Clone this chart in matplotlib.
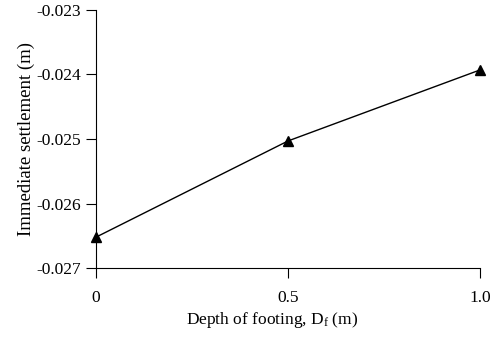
import matplotlib
matplotlib.use("Agg")
import matplotlib.pyplot as plt

# Données
depth = [0, 0.5, 1.0]
settlement = [-0.02652, -0.02503, -0.02393]
x_ticks = [0, 0.5, 1.0]
x_labels = ["0", "0.5", "1.0"]
y_ticks = [-0.027, -0.026, -0.025, -0.024, -0.023]
y_labels = ["-0.027", "-0.026", "-0.025", "-0.024", "-0.023"]

plt.rcParams["font.family"] = ["Liberation Serif", "DejaVu Serif"]
plt.rcParams["mathtext.fontset"] = "custom"
plt.rcParams["mathtext.rm"] = "Liberation Serif"
plt.rcParams["mathtext.it"] = "Liberation Serif:italic"

fig = plt.figure(figsize=(4.95, 3.39), dpi=100)
ax = fig.add_axes([0.194, 0.209, 0.776, 0.762])

ax.plot(depth, settlement, color="black", linewidth=1.0,
        marker="^", markersize=7, markerfacecolor="black", clip_on=False, zorder=3)

ax.set_xlim(0, 1.0)
ax.set_ylim(-0.027, -0.023)
ax.set_xticks(x_ticks)
ax.set_xticklabels(x_labels)
ax.set_yticks(y_ticks)
ax.set_yticklabels(y_labels)

ax.spines["top"].set_visible(False)
ax.spines["right"].set_visible(False)
for s in ["left", "bottom"]:
    ax.spines[s].set_linewidth(0.8)
ax.tick_params(direction="out", length=7, width=0.8, labelsize=12.5, colors="black")
ax.tick_params(axis="x", pad=9)
ax.tick_params(axis="y", pad=4)

ax.set_xlabel("Depth of footing, D$_\\mathrm{f}$ (m)", fontsize=12.5)
ax.xaxis.set_label_coords(0.458, -0.163)
ax.set_ylabel("Immediate settlement (m)", fontsize=13.5, labelpad=1)

fig.savefig("out.png", dpi=100)
